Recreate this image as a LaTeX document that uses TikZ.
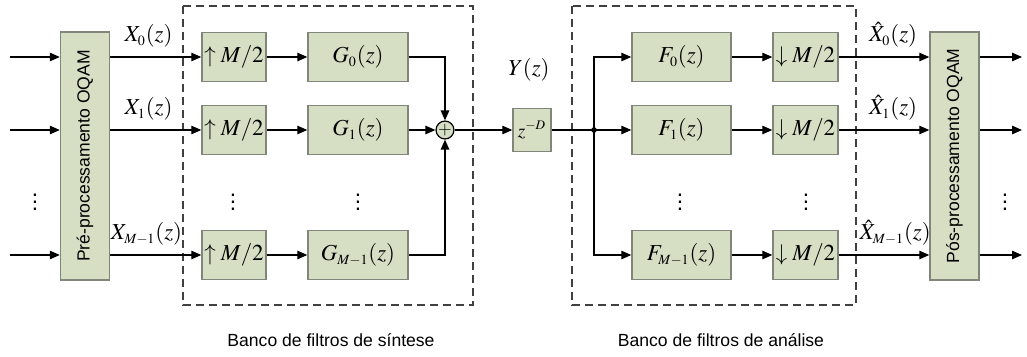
\documentclass[tikz,border=0pt]{standalone}
\usepackage{mathptmx}
\usepackage{fontspec}
\setmainfont{Liberation Sans}
\usetikzlibrary{arrows.meta}
\DeclareMathSizes{13}{13}{8}{6}
\DeclareMathSizes{11}{11}{7.5}{5.5}
\definecolor{boxfill}{RGB}{214,222,196}
\definecolor{boxline}{RGB}{130,134,122}
\tikzset{
  blk/.style={draw=boxline, fill=boxfill, line width=0.8pt, inner sep=0pt,
    minimum height=0.98cm, font=\fontsize{13}{15}\selectfont},
  arr/.style={-{Triangle[length=2mm,width=1.7mm]}, line width=0.7pt},
  ln/.style={line width=0.7pt},
  bank/.style={draw=black!75, dash pattern=on 1.6mm off 1mm, line width=0.7pt},
  lbl/.style={font=\fontsize{13}{15}\selectfont, inner sep=1pt},
  sig/.style={lbl, above, yshift=4pt},
  txt/.style={font=\fontsize{10}{12}\selectfont}
}
\begin{document}
\begin{tikzpicture}
\useasboundingbox (0,0) rectangle (20.54,7.12);
\pgfmathsetmacro{\dy}{3.18}
% synthesis and analysis banks
\draw[bank] (3.66,7.0) rectangle (9.46,1.02);
\draw[bank] (11.44,7.0) rectangle (17.12,1.02);
\node[txt] (synlbl) at (6.62,0.32) {Banco de filtros de síntese};
\node[txt] (anllbl) at (14.42,0.32) {Banco de filtros de análise};
% OQAM pre/post processing
\node[blk, txt, minimum width=0.98cm, minimum height=4.96cm] (pre) at (1.7,4.0)
  {\rotatebox{90}{Pré-processamento OQAM}};
\node[blk, txt, minimum width=0.98cm, minimum height=4.96cm] (post) at (19.09,4.0)
  {\rotatebox{90}{Pós-processamento OQAM}};
% adder, channel delay
\node[circle, draw, fill=boxfill, line width=0.7pt, minimum size=0.32cm, inner sep=0pt] (sum) at (8.9,4.52)
  {\fontsize{10}{10}\selectfont$+$};
\node[blk, minimum width=0.76cm, minimum height=0.86cm, font=\fontsize{11}{13}\selectfont] (zd) at (10.64,4.52) {$z^{-D}$};
\node[lbl] (ylbl) at (10.58,5.72) {$Y(z)$};
\coordinate (jn) at (11.88,4.52);
% branches (last field: label nudge away from the dashed boxes)
\foreach \i/\y/\s/\d in {0/5.98/0/0, 1/4.52/1/0, m/2.02/{M-1}/0.04} {
  \coordinate (in\i) at (0.2,\y);
  \coordinate (out\i) at (20.44,\y);
  \node[blk, minimum width=1.28cm] (up\i) at (4.68,\y) {$\uparrow M/2$};
  \node[blk, minimum width=2.0cm] (g\i) at (7.16,\y) {$G_{\s}(z)$};
  \node[blk, minimum width=1.98cm] (f\i) at (13.63,\y) {$F_{\s}(z)$};
  \node[blk, minimum width=1.3cm] (dn\i) at (16.11,\y) {$\downarrow M/2$};
  \draw[arr] (in\i) -- (in\i -| pre.west);
  \draw[arr] (pre.east |- up\i) -- node[sig, pos=0.42, xshift=-\d cm] {$X_{\s}(z)$} (up\i);
  \draw[arr] (up\i) -- (g\i);
  \draw[arr] (f\i) -- (dn\i);
  \draw[arr] (dn\i) -- node[sig, pos=0.6, xshift=\d cm] {$\hat{X}_{\s}(z)$} (dn\i -| post.west);
  \draw[arr] (post.east |- dn\i) -- (out\i);
}
\draw[arr] (g0.east) -| (sum.north);
\draw[arr] (g1) -- (sum);
\draw[arr] (gm.east) -| (sum.south);
\draw[arr] (sum) -- (zd);
\draw[ln] (zd.east) -- (jn);
\fill (jn) circle (1.6pt);
\draw[arr] (jn) |- (f0);
\draw[arr] (jn) -- (f1);
\draw[arr] (jn) |- (fm);
% dots between rows
\foreach \x [count=\k] in {0.7, 4.66, 7.16, 13.6, 16.12, 20.1}
  \node[lbl] (dt\k) at (\x,\dy) {$\vdots$};
\end{tikzpicture}
\end{document}
